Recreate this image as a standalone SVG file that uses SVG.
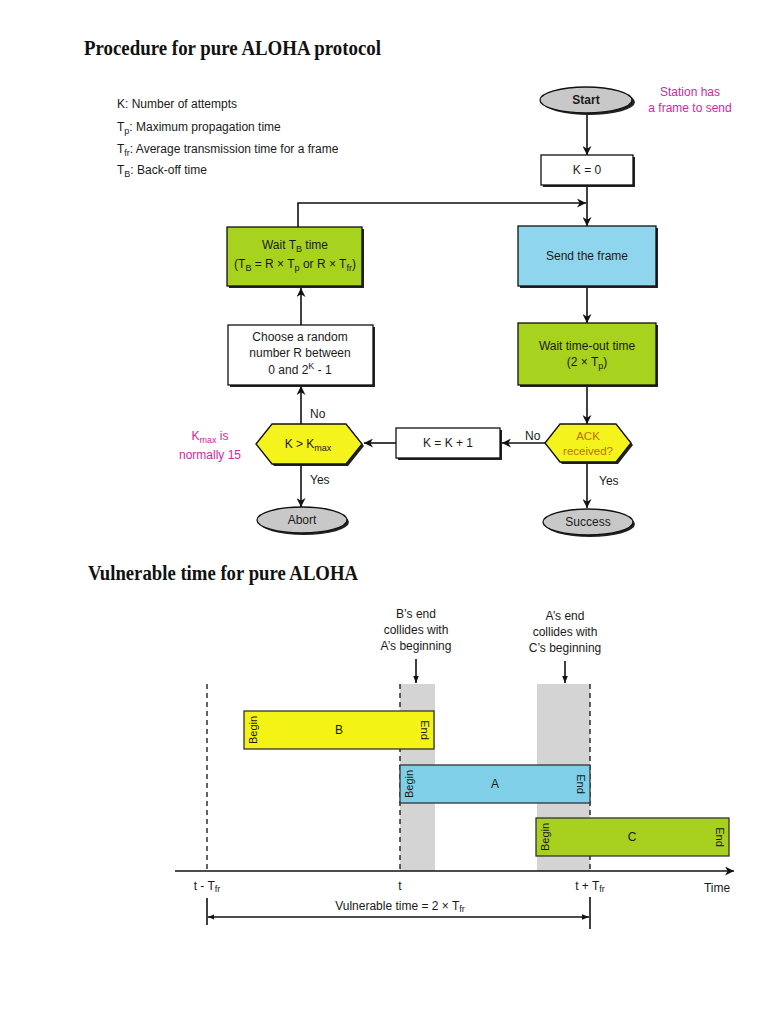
<svg xmlns="http://www.w3.org/2000/svg" width="768" height="1024" viewBox="0 0 768 1024">
<defs>
<marker id="ah" viewBox="0 0 10 10" refX="10" refY="5" markerWidth="9" markerHeight="9" markerUnits="userSpaceOnUse" orient="auto"><path d="M0,0 L10,5 L0,10 L3,5 z" fill="#111"/></marker>
<marker id="ahs" viewBox="0 0 10 10" refX="10" refY="5" markerWidth="7" markerHeight="7" markerUnits="userSpaceOnUse" orient="auto"><path d="M0,1 L10,5 L0,9 z" fill="#111"/></marker>
<marker id="ahstart" viewBox="0 0 10 10" refX="0" refY="5" markerWidth="6" markerHeight="6" markerUnits="userSpaceOnUse" orient="auto"><path d="M10,1 L0,5 L10,9 z" fill="#111"/></marker>
</defs>
<style>
.title{font-family:"Liberation Serif",serif;font-weight:bold;font-size:20px;fill:#111}
.t{font-family:"Liberation Sans",Arial,sans-serif;font-size:12px;fill:#1a1a1a}
.tc{font-family:"Liberation Sans",Arial,sans-serif;font-size:12px;fill:#1a1a1a;text-anchor:middle}
.mag{font-family:"Liberation Sans",Arial,sans-serif;font-size:12px;fill:#d3279f;text-anchor:middle}
.ack{font-family:"Liberation Sans",Arial,sans-serif;font-size:11.5px;fill:#b8720a;text-anchor:middle}
.box{stroke:#111;stroke-width:1.3}
.shadow{fill:#222}
.white{fill:#fff}
.green{fill:#a7d21d}
.blue{fill:#8fd5ee}
.yellow{fill:#f4f31c}
.gray{fill:#c8c8c8}
.conn{stroke:#111;stroke-width:1.6;fill:none}
.dash{stroke:#111;stroke-width:1.3;stroke-dasharray:5,4;fill:none}
.band{fill:#d4d4d4}
.rot{font-family:"Liberation Sans",Arial,sans-serif;font-size:11px;fill:#1a1a1a;text-anchor:middle}
</style>

<text class="title" x="84" y="55" textLength="297" lengthAdjust="spacingAndGlyphs">Procedure for pure ALOHA protocol</text>

<g id="legend">
<text class="t" x="117" y="108">K: Number of attempts</text>
<text class="t" x="117" y="131">T<tspan font-size="9" dy="3">p</tspan><tspan dy="-3">: Maximum propagation time</tspan></text>
<text class="t" x="117" y="153">T<tspan font-size="9" dy="3">fr</tspan><tspan dy="-3">: Average transmission time for a frame</tspan></text>
<text class="t" x="117" y="174">T<tspan font-size="9" dy="3">B</tspan><tspan dy="-3">: Back-off time</tspan></text>
</g>

<g id="connectors">
<line class="conn" x1="587" y1="113" x2="587" y2="155" marker-end="url(#ah)"/>
<line class="conn" x1="587" y1="186" x2="587" y2="226" marker-end="url(#ah)"/>
<polyline class="conn" points="298,227 298,203 586,203" marker-end="url(#ah)"/>
<line class="conn" x1="587" y1="288" x2="587" y2="323" marker-end="url(#ah)"/>
<line class="conn" x1="587" y1="387" x2="587" y2="424" marker-end="url(#ah)"/>
<line class="conn" x1="587" y1="462" x2="587" y2="508" marker-end="url(#ah)"/>
<line class="conn" x1="545" y1="443" x2="502" y2="443" marker-end="url(#ah)"/>
<line class="conn" x1="396" y1="443" x2="364" y2="443" marker-end="url(#ah)"/>
<line class="conn" x1="301" y1="424" x2="301" y2="386" marker-end="url(#ah)"/>
<line class="conn" x1="301" y1="325" x2="301" y2="288" marker-end="url(#ah)"/>
<line class="conn" x1="301" y1="464" x2="301" y2="507" marker-end="url(#ah)"/>
</g>

<g id="start">
<ellipse class="shadow" cx="589" cy="102" rx="46" ry="13"/>
<ellipse class="gray box" cx="586" cy="100" rx="46" ry="13"/>
<text class="tc" x="586" y="104" font-weight="bold">Start</text>
</g>
<g id="note-station">
<text class="mag" x="690" y="96">Station has</text>
<text class="mag" x="690" y="112">a frame to send</text>
</g>

<g id="k0">
<rect class="shadow" x="543" y="157" width="92" height="30"/>
<rect class="white box" x="541" y="155" width="92" height="30"/>
<text class="tc" x="587" y="174">K = 0</text>
</g>

<g id="send">
<rect class="shadow" x="520" y="228" width="138" height="60"/>
<rect class="blue box" x="518" y="226" width="138" height="60"/>
<text class="tc" x="587" y="260" fill="#1c2b45" font-size="13">Send the frame</text>
</g>

<g id="timeout">
<rect class="shadow" x="520" y="325" width="138" height="62"/>
<rect class="green box" x="518" y="323" width="138" height="62"/>
<text class="tc" x="587" y="350">Wait time-out time</text>
<text class="tc" x="587" y="366">(2 × T<tspan font-size="9" dy="3">p</tspan><tspan dy="-3">)</tspan></text>
</g>

<g id="ack">
<polygon class="shadow" points="547,445 562,426 618,426 633,445 618,464 562,464"/>
<polygon class="yellow box" points="545,443 560,424 616,424 631,443 616,462 560,462"/>
<text class="ack" x="588" y="440">ACK</text>
<text class="ack" x="588" y="455">received?</text>
</g>
<text class="t" x="525" y="440">No</text>
<text class="t" x="599" y="485">Yes</text>

<g id="success">
<ellipse class="shadow" cx="590" cy="524" rx="45" ry="13"/>
<ellipse class="gray box" cx="588" cy="522" rx="45" ry="13"/>
<text class="tc" x="588" y="526">Success</text>
</g>

<g id="kinc">
<rect class="shadow" x="398" y="430" width="104" height="30"/>
<rect class="white box" x="396" y="428" width="104" height="30"/>
<text class="tc" x="448" y="447">K = K + 1</text>
</g>

<g id="kmax">
<polygon class="shadow" points="258,446 274,426 348,426 364,446 348,466 274,466"/>
<polygon class="yellow box" points="256,444 272,424 346,424 362,444 346,464 272,464"/>
<text class="tc" x="308" y="448">K &gt; K<tspan font-size="9" dy="3">max</tspan></text>
</g>
<text class="t" x="310" y="418">No</text>
<text class="t" x="310" y="484">Yes</text>
<g id="note-kmax">
<text class="mag" x="210" y="440">K<tspan font-size="9" dy="3">max</tspan><tspan dy="-3"> is</tspan></text>
<text class="mag" x="210" y="459">normally 15</text>
</g>

<g id="abort">
<ellipse class="shadow" cx="304" cy="522" rx="45" ry="13"/>
<ellipse class="gray box" cx="302" cy="520" rx="45" ry="13"/>
<text class="tc" x="302" y="524">Abort</text>
</g>

<g id="choose">
<rect class="shadow" x="230" y="327" width="145" height="60"/>
<rect class="white box" x="228" y="325" width="145" height="60"/>
<text class="tc" x="300" y="341">Choose a random</text>
<text class="tc" x="300" y="357">number R between</text>
<text class="tc" x="300" y="374">0 and 2<tspan font-size="9" dy="-5">K</tspan><tspan dy="5"> - 1</tspan></text>
</g>

<g id="waitb">
<rect class="shadow" x="229" y="229" width="135" height="59"/>
<rect class="green box" x="227" y="227" width="135" height="59"/>
<text class="tc" x="295" y="249">Wait T<tspan font-size="9" dy="3">B</tspan><tspan dy="-3"> time</tspan></text>
<text class="tc" x="295" y="268">(T<tspan font-size="9" dy="3">B</tspan><tspan dy="-3"> = R × T</tspan><tspan font-size="9" dy="3">p</tspan><tspan dy="-3"> or R × T</tspan><tspan font-size="9" dy="3">fr</tspan><tspan dy="-3">)</tspan></text>
</g>

<text class="title" x="88" y="580" textLength="270" lengthAdjust="spacingAndGlyphs">Vulnerable time for pure ALOHA</text>

<g id="bands">
<rect class="band" x="400" y="684" width="35" height="187"/>
<rect class="band" x="537" y="684" width="53" height="187"/>
</g>

<g id="callouts">
<text class="tc" x="416" y="618">B’s end</text>
<text class="tc" x="416" y="634">collides with</text>
<text class="tc" x="416" y="650">A’s beginning</text>
<text class="tc" x="565" y="620">A’s end</text>
<text class="tc" x="565" y="636">collides with</text>
<text class="tc" x="565" y="652">C’s beginning</text>
</g>

<g id="timeline-connectors">
<line class="conn" x1="416" y1="659" x2="416" y2="683" stroke-width="1.2" marker-end="url(#ahs)"/>
<line class="conn" x1="565" y1="661" x2="565" y2="683" stroke-width="1.2" marker-end="url(#ahs)"/>
<line class="dash" x1="207" y1="684" x2="207" y2="871"/>
<line class="dash" x1="400" y1="684" x2="400" y2="871"/>
<line class="dash" x1="590" y1="684" x2="590" y2="871"/>
<line class="conn" x1="175" y1="871" x2="734" y2="871" stroke-width="1.3" marker-end="url(#ah)"/>
<line class="conn" x1="207" y1="898" x2="207" y2="925" stroke-width="1.2"/>
<line class="conn" x1="590" y1="897" x2="590" y2="929" stroke-width="1.2"/>
<line class="conn" x1="208" y1="917" x2="589" y2="917" stroke-width="1.2" marker-start="url(#ahstart)" marker-end="url(#ahs)"/>
</g>

<g id="frameB">
<rect x="244" y="711" width="190" height="38" fill="#f4f316" stroke="#333" stroke-width="1.3"/>
<text class="rot" transform="translate(257,730) rotate(-90)">Begin</text>
<text class="rot" transform="translate(421,730) rotate(90)">End</text>
<text class="tc" x="339" y="734" font-size="11">B</text>
</g>
<g id="frameA">
<rect x="400" y="765" width="190" height="38" fill="#7fcfe8" stroke="#333" stroke-width="1.3"/>
<text class="rot" transform="translate(413,784) rotate(-90)">Begin</text>
<text class="rot" transform="translate(577,784) rotate(90)">End</text>
<text class="tc" x="495" y="788" font-size="11">A</text>
</g>
<g id="frameC">
<rect x="536" y="818" width="193" height="38" fill="#a8d01e" stroke="#333" stroke-width="1.3"/>
<text class="rot" transform="translate(549,837) rotate(-90)">Begin</text>
<text class="rot" transform="translate(716,837) rotate(90)">End</text>
<text class="tc" x="632" y="841" font-size="11">C</text>
</g>

<g id="axis-labels">
<text class="tc" x="207" y="890" font-size="11.5">t - T<tspan font-size="9" dy="2">fr</tspan></text>
<text class="tc" x="400" y="890" font-size="11.5">t</text>
<text class="tc" x="590" y="890" font-size="11.5">t + T<tspan font-size="9" dy="2">fr</tspan></text>
<text class="tc" x="717" y="892" font-size="12.5">Time</text>
<text class="tc" x="400" y="910" font-size="12">Vulnerable time = 2 × T<tspan font-size="9" dy="2">fr</tspan></text>
</g>
</svg>
